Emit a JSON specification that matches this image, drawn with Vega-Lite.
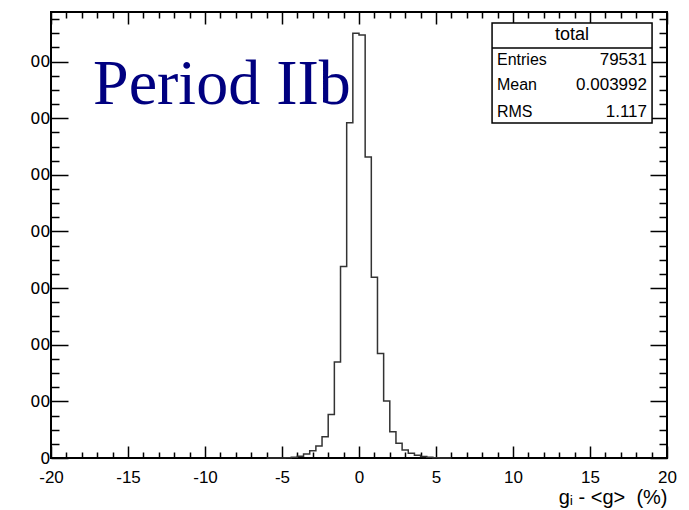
{
  "$schema": "https://vega.github.io/schema/vega-lite/v6.json",
  "width": 616,
  "height": 446,
  "autosize": "none",
  "padding": {"left": 51, "top": 12, "right": 22, "bottom": 52},
  "background": "white",
  "config": {
    "view": {"stroke": "#000", "strokeWidth": 2},
    "font": "Liberation Sans"
  },
  "datasets": {
    "hist": [
      {"lo": -6.0, "n": 0}, {"lo": -5.6, "n": 0}, {"lo": -5.2, "n": 0},
      {"lo": -4.8, "n": 10}, {"lo": -4.4, "n": 25}, {"lo": -4.0, "n": 60},
      {"lo": -3.6, "n": 140}, {"lo": -3.2, "n": 260}, {"lo": -2.8, "n": 420},
      {"lo": -2.4, "n": 750}, {"lo": -2.0, "n": 1540}, {"lo": -1.6, "n": 3390},
      {"lo": -1.2, "n": 6760}, {"lo": -0.8, "n": 11840}, {"lo": -0.4, "n": 15000},
      {"lo": 0.0, "n": 14940}, {"lo": 0.4, "n": 10630}, {"lo": 0.8, "n": 6380},
      {"lo": 1.2, "n": 3690}, {"lo": 1.6, "n": 2010}, {"lo": 2.0, "n": 930},
      {"lo": 2.4, "n": 520}, {"lo": 2.8, "n": 280}, {"lo": 3.2, "n": 165},
      {"lo": 3.6, "n": 95}, {"lo": 4.0, "n": 50}, {"lo": 4.4, "n": 25},
      {"lo": 4.8, "n": 10}, {"lo": 5.2, "n": 0}, {"lo": 5.6, "n": 0}, {"lo": 6.0, "n": 0}
    ],
    "label": [{"x": -17.27, "y": 12500, "t": "Period IIb"}],
    "box": [{"x1": 8.64, "x2": 19.03, "y1": 15360, "y2": 11829, "yh": 14477}],
    "head": [{"x": 13.83, "y": 14936, "t": "total"}],
    "names": [
      {"x": 8.96, "y": 14053, "t": "Entries"},
      {"x": 8.96, "y": 13171, "t": "Mean"},
      {"x": 8.96, "y": 12217, "t": "RMS"}
    ],
    "vals": [
      {"x": 18.7, "y": 14053, "t": "79531"},
      {"x": 18.7, "y": 13171, "t": "0.003992"},
      {"x": 18.7, "y": 12217, "t": "1.117"}
    ]
  },
  "layer": [
    {
      "data": {"name": "hist"},
      "mark": {"type": "line", "interpolate": "step-after", "stroke": "#333", "strokeWidth": 1.5},
      "encoding": {
        "x": {
          "field": "lo", "type": "quantitative",
          "scale": {"domain": [-20, 20], "nice": false, "zero": false},
          "axis": {
            "orient": "bottom",
            "values": [-20,-19,-18,-17,-16,-15,-14,-13,-12,-11,-10,-9,-8,-7,-6,-5,-4,-3,-2,-1,0,1,2,3,4,5,6,7,8,9,10,11,12,13,14,15,16,17,18,19,20],
            "tickSize": {"condition": {"test": "datum.value % 5 === 0", "value": -12}, "value": -6},
            "tickColor": "#000", "tickWidth": 1.5,
            "labelExpr": "datum.value % 5 === 0 ? ('' + datum.value) : ''",
            "labelPadding": 23, "labelFontSize": 17, "labelColor": "#000",
            "labelFlush": false, "labelOverlap": false, "labelBound": false,
            "domain": false, "grid": false,
            "title": "gᵢ - <g> \u00a0(%)", "titleAnchor": "end", "titleFontSize": 20,
            "titleAlign": "right", "titleX": 616, "titleY": 45, "titleBaseline": "alphabetic",
            "titleFontWeight": "normal", "titleColor": "#000"
          }
        },
        "y": {
          "field": "n", "type": "quantitative",
          "scale": {"domain": [0, 15750], "nice": false},
          "axis": {
            "orient": "left",
            "values": [0,500,1000,1500,2000,2500,3000,3500,4000,4500,5000,5500,6000,6500,7000,7500,8000,8500,9000,9500,10000,10500,11000,11500,12000,12500,13000,13500,14000,14500,15000,15500],
            "tickSize": {"condition": {"test": "datum.value % 2000 === 0", "value": -17}, "value": -8},
            "tickColor": "#000", "tickWidth": 1.5,
            "labelExpr": "datum.value === 0 ? '0' : (datum.value % 2000 === 0 ? '00' : '')",
            "labelPadding": 18, "labelFontSize": 16, "labelColor": "#000", "labelFont": "DejaVu Sans",
            "labelOverlap": false, "labelBound": false, "labelFlush": false,
            "domain": false, "grid": false, "title": null
          }
        }
      }
    },
    {
      "data": {"name": "hist"},
      "mark": {"type": "line", "interpolate": "step-after", "opacity": 0},
      "encoding": {
        "x": {
          "field": "lo", "type": "quantitative",
          "axis": {
            "orient": "top",
            "values": [-20,-19,-18,-17,-16,-15,-14,-13,-12,-11,-10,-9,-8,-7,-6,-5,-4,-3,-2,-1,0,1,2,3,4,5,6,7,8,9,10,11,12,13,14,15,16,17,18,19,20],
            "tickSize": {"condition": {"test": "datum.value % 5 === 0", "value": -12}, "value": -6},
            "tickColor": "#000", "tickWidth": 1.5,
            "labels": false, "domain": false, "grid": false, "title": null
          }
        },
        "y": {
          "field": "n", "type": "quantitative",
          "axis": {
            "orient": "right",
            "values": [0,500,1000,1500,2000,2500,3000,3500,4000,4500,5000,5500,6000,6500,7000,7500,8000,8500,9000,9500,10000,10500,11000,11500,12000,12500,13000,13500,14000,14500,15000,15500],
            "tickSize": {"condition": {"test": "datum.value % 2000 === 0", "value": -17}, "value": -8},
            "tickColor": "#000", "tickWidth": 1.5,
            "labels": false, "domain": false, "grid": false, "title": null
          }
        }
      }
    },
    {
      "data": {"name": "label"},
      "mark": {"type": "text", "align": "left", "baseline": "alphabetic", "font": "Liberation Serif", "fontSize": 64, "fill": "#000080"},
      "encoding": {
        "x": {"field": "x", "type": "quantitative", "axis": null},
        "y": {"field": "y", "type": "quantitative", "axis": null},
        "text": {"field": "t"}
      }
    },
    {
      "data": {"name": "box"},
      "mark": {"type": "rect", "fill": "white", "stroke": "#000", "strokeWidth": 1.5},
      "encoding": {
        "x": {"field": "x1", "type": "quantitative", "axis": null},
        "x2": {"field": "x2"},
        "y": {"field": "y1", "type": "quantitative", "axis": null},
        "y2": {"field": "y2"}
      }
    },
    {
      "data": {"name": "box"},
      "mark": {"type": "rule", "stroke": "#000", "strokeWidth": 1.5},
      "encoding": {
        "x": {"field": "x1", "type": "quantitative", "axis": null},
        "x2": {"field": "x2"},
        "y": {"field": "yh", "type": "quantitative", "axis": null}
      }
    },
    {
      "data": {"name": "head"},
      "mark": {"type": "text", "align": "center", "baseline": "middle", "fontSize": 18, "fill": "#000"},
      "encoding": {
        "x": {"field": "x", "type": "quantitative", "axis": null},
        "y": {"field": "y", "type": "quantitative", "axis": null},
        "text": {"field": "t"}
      }
    },
    {
      "data": {"name": "names"},
      "mark": {"type": "text", "align": "left", "baseline": "middle", "fontSize": 16, "fill": "#000"},
      "encoding": {
        "x": {"field": "x", "type": "quantitative", "axis": null},
        "y": {"field": "y", "type": "quantitative", "axis": null},
        "text": {"field": "t"}
      }
    },
    {
      "data": {"name": "vals"},
      "mark": {"type": "text", "align": "right", "baseline": "middle", "fontSize": 17, "fill": "#000"},
      "encoding": {
        "x": {"field": "x", "type": "quantitative", "axis": null},
        "y": {"field": "y", "type": "quantitative", "axis": null},
        "text": {"field": "t"}
      }
    }
  ],
  "resolve": {"axis": {"x": "independent", "y": "independent"}}
}
